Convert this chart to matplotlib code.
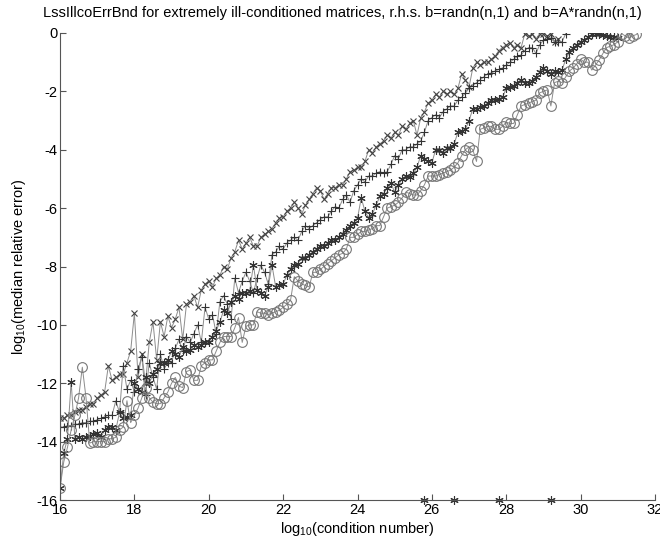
import matplotlib
matplotlib.use("Agg")
import matplotlib.pyplot as plt

plt.rcParams['font.family'] = ['Liberation Sans', 'DejaVu Sans']
plt.rcParams['mathtext.fontset'] = 'custom'
plt.rcParams['mathtext.rm'] = 'Liberation Sans'
plt.rcParams['mathtext.it'] = 'Liberation Sans'

# condition-number grid (log10), shared by all series
cond = [16.0, 16.1, 16.2, 16.3, 16.4, 16.5, 16.6, 16.7, 16.8, 16.9,
        17.0, 17.1, 17.2, 17.3, 17.4, 17.5, 17.6, 17.7, 17.8, 17.9,
        18.0, 18.1, 18.2, 18.3, 18.4, 18.5, 18.6, 18.7, 18.8, 18.9,
        19.0, 19.1, 19.2, 19.3, 19.4, 19.5, 19.6, 19.7, 19.8, 19.9,
        20.0, 20.1, 20.2, 20.3, 20.4, 20.5, 20.6, 20.7, 20.8, 20.9,
        21.0, 21.1, 21.2, 21.3, 21.4, 21.5, 21.6, 21.7, 21.8, 21.9,
        22.0, 22.1, 22.2, 22.3, 22.4, 22.5, 22.6, 22.7, 22.8, 22.9,
        23.0, 23.1, 23.2, 23.3, 23.4, 23.5, 23.6, 23.7, 23.8, 23.9,
        24.0, 24.1, 24.2, 24.3, 24.4, 24.5, 24.6, 24.7, 24.8, 24.9,
        25.0, 25.1, 25.2, 25.3, 25.4, 25.5, 25.6, 25.7, 25.8, 25.9,
        26.0, 26.1, 26.2, 26.3, 26.4, 26.5, 26.6, 26.7, 26.8, 26.9,
        27.0, 27.1, 27.2, 27.3, 27.4, 27.5, 27.6, 27.7, 27.8, 27.9,
        28.0, 28.1, 28.2, 28.3, 28.4, 28.5, 28.6, 28.7, 28.8, 28.9,
        29.0, 29.1, 29.2, 29.3, 29.4, 29.5, 29.6, 29.7, 29.8, 29.9,
        30.0, 30.1, 30.2, 30.3, 30.4, 30.5, 30.6, 30.7, 30.8, 30.9,
        31.0, 31.1, 31.2, 31.3, 31.4, 31.5]

err_x = [-13.2, -13.2, -13.1, -13.1, -13.0, -12.9, -12.9, -12.8, -12.7, -12.7,
         -12.5, -12.4, -12.3, -11.4, -11.9, -11.8, -11.7, -11.7, -11.3, -10.9,
         -9.6, -11.8, -11.0, -12.0, -10.6, -9.9, -11.2, -9.9, -10.4, -9.7,
         -10.1, -9.8, -9.4, -10.5, -9.3, -9.2, -9.0, -9.4, -8.8, -8.6,
         -8.5, -8.7, -8.4, -8.3, -8.0, -8.1, -7.7, -7.5, -7.1, -7.4,
         -7.2, -7.0, -7.3, -7.3, -7.0, -6.9, -6.8, -6.7, -6.5, -6.35,
         -6.3, -6.1, -6.0, -5.8, -6.0, -6.2, -5.9, -5.7, -5.5, -5.3,
         -5.4, -5.7, -5.5, -5.3, -5.3, -5.2, -5.2, -5.0, -4.75, -4.7,
         -4.6, -4.6, -4.4, -4.0, -4.1, -3.9, -3.8, -3.7, -3.5, -3.6,
         -3.4, -3.5, -3.2, -3.3, -3.1, -3.0, -3.5, -2.9, -2.7, -2.4,
         -2.3, -2.1, -2.2, -2.0, -2.1, -2.0, -2.1, -1.9, -1.4, -1.6,
         -1.85, -1.2, -1.0, -1.1, -1.0, -1.0, -0.9, -0.8, -0.6, -0.5,
         -0.4, -0.35, -0.5, -0.4, -0.5, -0.02, -0.1, -0.05, -0.2, -0.02,
         -0.02, -0.1, -0.02, -0.3, -0.2]

err_plus = [-13.5, -13.5, -13.45, -13.45, -13.4, -13.4, -13.35, -13.35, -13.3, -13.3,
            -13.25, -13.2, -13.15, -13.1, -13.1, -12.6, -13.0, -11.4, -12.2, -11.9,
            -12.3, -11.5, -11.1, -12.4, -11.3, -11.8, -12.2, -11.0, -11.5, -11.3,
            -11.3, -10.8, -10.5, -10.9, -10.4, -10.6, -10.3, -10.0, -10.6, -9.4,
            -9.8, -9.65, -10.3, -9.2, -9.0, -9.3, -9.8, -8.4, -8.9, -8.5,
            -8.2, -8.5, -8.9, -8.4, -7.95, -8.2, -8.6, -7.6, -7.5, -7.3,
            -7.4, -7.2, -7.1, -7.0, -7.1, -6.8, -6.6, -6.7, -6.6, -6.5,
            -6.4, -6.3, -6.3, -6.1, -5.95, -6.0, -5.7, -5.55, -5.8, -5.4,
            -5.2, -5.0, -5.1, -4.9, -4.9, -4.8, -4.75, -4.8, -4.75, -4.5,
            -4.2, -4.3, -4.0, -4.0, -3.9, -3.9, -3.8, -3.7, -3.4, -3.0,
            -2.9, -2.8, -2.9, -2.7, -2.6, -2.5, -2.5, -2.3, -2.2, -2.06,
            -1.9, -1.8, -1.7, -1.6, -1.5, -1.4, -1.37, -1.3, -1.25, -1.2,
            -1.1, -1.0, -0.9, -0.8, -0.75, -0.6, -0.5, -0.5, -0.7, -0.4,
            -0.25, -0.2, -0.17, -0.3, -0.3, -0.3, -0.02]

err_star = [-15.6, -14.4, -13.9, -11.95, -13.9, -13.85, -13.9, -13.85, -13.8, -13.75,
            -13.7, -13.85, -13.6, -13.5, -13.5, -13.6, -13.0, -13.2, -13.15, -13.1,
            -12.0, -12.2, -12.3, -11.8, -12.0, -11.7, -11.5, -11.3, -11.3, -11.2,
            -10.9, -11.0, -11.1, -10.75, -10.9, -10.85, -10.7, -10.75, -10.7, -10.6,
            -10.6, -10.4, -10.2, -9.9, -9.5, -9.6, -9.2, -9.0, -9.1, -8.9,
            -8.9, -8.85, -7.95, -8.8, -8.9, -9.0, -8.7, -7.95, -8.7, -8.65,
            -8.6, -8.3, -8.1, -7.95, -7.9, -7.7, -7.7, -7.6, -7.5, -7.4,
            -7.3, -7.3, -7.2, -7.1, -7.1, -7.0, -6.9, -6.75, -6.6, -6.5,
            -6.35, -5.65, -6.1, -6.35, -6.2, -5.9, -5.6, -5.5, -5.3, -5.15,
            -5.45, -5.2, -5.0, -4.9, -4.95, -4.8, -4.6, -4.2, -4.3, -4.4,
            -4.45, -4.0, -4.0, -4.1, -3.95, -3.95, -3.8, -3.4, -3.35, -3.3,
            -3.0, -2.6, -2.6, -2.55, -2.5, -2.4, -2.3, -2.3, -2.25, -2.2,
            -1.9, -1.85, -1.8, -1.7, -1.6, -1.7, -1.7, -1.65, -1.5, -1.35,
            -1.2, -1.3, -1.4, -1.3, -1.35, -1.27, -0.9, -0.65, -0.5, -0.4,
            -0.3, -0.24, -0.15, -0.05, -0.02, -0.05, -0.07, -0.1, -0.12, -0.15,
            -0.17]

err_circ = [-15.6, -14.7, -14.2, -13.6, -13.1, -12.5, -11.45, -12.5, -14.05, -14.0,
            -14.0, -14.0, -14.0, -13.9, -13.9, -13.85, -13.6, -13.5, -12.6, -13.35,
            -13.1, -12.85, -12.5, -12.15, -12.5, -12.65, -12.7, -12.7, -12.5, -12.3,
            -12.0, -11.8, -12.1, -12.15, -11.6, -11.55, -11.9, -11.9, -11.4, -11.3,
            -11.2, -11.2, -10.9, -10.6, -10.4, -10.4, -10.4, -10.1, -9.75, -10.6,
            -10.05, -10.0, -10.0, -9.55, -9.6, -9.6, -9.65, -9.6, -9.55, -9.5,
            -9.4, -9.3, -9.15, -8.35, -8.5, -8.6, -8.65, -8.7, -8.2, -8.2,
            -8.1, -8.0, -7.9, -7.8, -7.7, -7.6, -7.55, -7.4, -7.0, -7.0,
            -6.9, -6.8, -6.8, -6.75, -6.7, -6.6, -6.6, -6.3, -6.0, -5.95,
            -5.9, -5.8, -5.65, -5.45, -5.5, -5.55, -5.55, -5.4, -5.2, -4.9,
            -4.9, -4.9, -4.85, -4.8, -4.75, -4.7, -4.6, -4.45, -4.2, -4.0,
            -3.9, -4.0, -4.4, -3.3, -3.25, -3.2, -3.2, -3.3, -3.3, -3.2,
            -3.05, -3.1, -3.1, -2.8, -2.5, -2.45, -2.4, -2.35, -2.3, -2.05,
            -2.0, -1.95, -2.5, -1.7, -1.65, -1.7, -1.5, -1.3, -1.2, -1.05,
            -0.9, -1.0, -1.0, -1.27, -1.1, -0.92, -0.7, -0.5, -0.45, -0.4,
            -0.3, -0.02, -0.1, -0.17, -0.1, -0.05]

# cases where the error hit the floor (plotted on the axis)
floor_cond = [25.8, 26.6, 27.8, 29.2]
floor_err = [-16, -16, -16, -16]

xticks = [16, 18, 20, 22, 24, 26, 28, 30, 32]
yticks = [0, -2, -4, -6, -8, -10, -12, -14, -16]

fig = plt.figure(figsize=(6.6, 5.4), dpi=100)
ax = fig.add_axes([60/660, 1 - 500/540, 595/660, 467/540])

line_c = '#8c8c8c'
ax.plot(cond[:len(err_x)], err_x, '-', color=line_c, lw=0.7,
        marker='x', ms=4.5, mec='#444444', mew=0.8)
ax.plot(cond[:len(err_plus)], err_plus, '-', color=line_c, lw=0.7,
        marker='+', ms=6, mec='#333333', mew=0.8)
ax.plot(cond[:len(err_star)], err_star, '-', color=line_c, lw=0.7,
        marker=(6, 2, 0), ms=6, mec='#333333', mew=0.8)
ax.plot(cond[:len(err_circ)], err_circ, '-', color=line_c, lw=0.7,
        marker='o', ms=7, mfc='none', mec='#777777', mew=0.8)
ax.plot(floor_cond, floor_err, linestyle='none', marker=(6, 2, 0), ms=6,
        mec='#333333', mew=0.8, clip_on=False)

ax.set_xlim(16, 32)
ax.set_ylim(-16, 0)
ax.set_xticks(xticks)
ax.set_yticks(yticks)
ax.set_xticklabels([str(t) for t in xticks])
ax.set_yticklabels([str(t) for t in yticks])
for s in ['top', 'right']:
    ax.spines[s].set_visible(False)
for s in ['left', 'bottom']:
    ax.spines[s].set_color('#555555')
    ax.spines[s].set_linewidth(0.8)
ax.tick_params(direction='in', length=4, width=0.8, colors='#555555',
               labelcolor='black', labelsize=10.5, pad=2)

ax.set_xlabel(r'log$_{\mathrm{10}}$(condition number)', fontsize=10.5, labelpad=2)
ax.set_ylabel(r'log$_{\mathrm{10}}$(median relative error)', fontsize=10.5, labelpad=6)
fig.text(342/660, 1 - 13/540,
         'LssIllcoErrBnd for extremely ill-conditioned matrices, r.h.s. b=randn(n,1) and b=A*randn(n,1)',
         ha='center', va='center', fontsize=10.5)

fig.savefig('out.png', dpi=100)
